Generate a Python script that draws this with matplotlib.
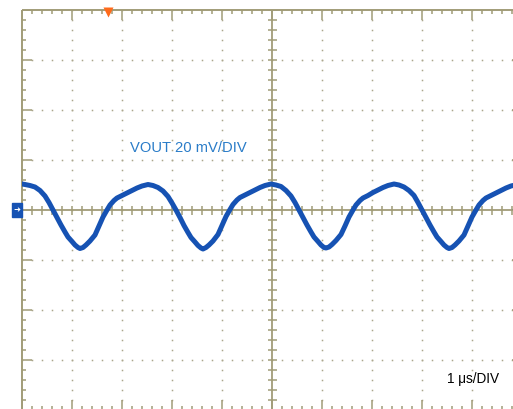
import numpy as np
import matplotlib
matplotlib.use("Agg")
import matplotlib.pyplot as plt

# ---- data ----
time_us = [0.00,
           0.06, 0.16, 0.26, 0.36, 0.46, 0.54, 0.62, 0.70, 0.78, 0.86, 0.92, 1.00, 1.06, 1.12, 1.16,
           1.22, 1.28, 1.36, 1.46, 1.54, 1.62, 1.70, 1.76, 1.84, 1.90, 2.00, 2.10, 2.20, 2.30, 2.40,
           2.52, 2.62, 2.72, 2.82, 2.92, 3.00, 3.08, 3.16, 3.24, 3.32, 3.38, 3.46, 3.52, 3.58, 3.62,
           3.68, 3.74, 3.82, 3.92, 4.00, 4.08, 4.16, 4.22, 4.30, 4.36, 4.46, 4.56, 4.66, 4.76, 4.86,
           4.98, 5.08, 5.18, 5.28, 5.38, 5.46, 5.54, 5.62, 5.70, 5.78, 5.84, 5.92, 5.98, 6.04, 6.08,
           6.14, 6.20, 6.28, 6.38, 6.46, 6.54, 6.62, 6.68, 6.76, 6.82, 6.92, 7.02, 7.12, 7.22, 7.32,
           7.44, 7.54, 7.64, 7.74, 7.84, 7.92, 8.00, 8.08, 8.16, 8.24, 8.30, 8.38, 8.44, 8.50, 8.54,
           8.60, 8.66, 8.74, 8.84, 8.92, 9.00, 9.08, 9.14, 9.22, 9.28, 9.38, 9.48, 9.58, 9.68, 9.78,
           9.82]
vout_mv = [10.4,
           10.2, 9.8, 9.2, 7.8, 5.6, 3.0, 0.0, -3.0, -6.0, -8.8, -10.8, -12.6, -14.0, -15.0, -15.4,
           -15.0, -14.0, -12.4, -10.0, -6.4, -2.8, 0.0, 2.0, 3.8, 4.8, 5.8, 6.8, 7.8, 8.8, 9.6,
           10.2, 9.8, 9.0, 7.6, 5.4, 2.8, 0.0, -3.0, -6.2, -9.0, -11.0, -12.8, -14.2, -15.2, -15.6,
           -15.0, -14.0, -12.4, -9.8, -6.2, -2.6, 0.2, 2.2, 4.0, 5.0, 6.0, 7.0, 8.0, 9.0, 9.8,
           10.4, 10.0, 9.4, 7.8, 5.6, 3.0, 0.0, -3.0, -6.0, -8.8, -10.8, -12.6, -14.0, -15.0, -15.2,
           -14.8, -13.8, -12.2, -9.8, -6.4, -2.8, 0.0, 2.0, 3.8, 4.8, 5.8, 7.0, 8.0, 9.0, 9.8,
           10.4, 10.0, 9.2, 7.8, 5.8, 3.0, 0.0, -3.0, -6.0, -8.8, -10.8, -12.6, -14.0, -15.0, -15.4,
           -15.0, -14.0, -12.4, -10.0, -6.4, -2.8, 0.0, 2.0, 3.8, 4.8, 5.8, 6.8, 7.8, 8.8, 9.6,
           9.8]

ch_label = "VOUT 20 mV/DIV"
tb_label = "1 μs/DIV"

V_DIV = 20.0   # mV per division
T_DIV = 1.0    # us per division
NX, NY = 10, 8

GRAT = "#a19c78"
DOT = "#aaa68c"
TRACE = "#1652b3"

fig = plt.figure(figsize=(5.13, 4.09), dpi=100)
W, H = 513, 409
ax = fig.add_axes([22 / W, (H - 410) / H, 500 / W, 400 / H])
ax.set_xlim(0, NX * T_DIV)
ax.set_ylim(-NY / 2 * V_DIV, NY / 2 * V_DIV)
ax.axis("off")

xmax = NX * T_DIV
ytop = NY / 2 * V_DIV
sx = T_DIV / 50.0   # us per pixel
sy = V_DIV / 50.0   # mV per pixel

# dotted grid lines
for i in range(1, NX):
    if i == NX // 2:
        continue
    ys = np.arange(-ytop, ytop + 1e-9, V_DIV / 5)
    ax.plot(np.full_like(ys, i * T_DIV), ys, ls="none", marker="s", ms=1.1,
            mec="none", mfc=DOT, zorder=1)
for j in range(-NY // 2 + 1, NY // 2):
    if j == 0:
        continue
    xs = np.arange(0, xmax + 1e-9, T_DIV / 5)
    ax.plot(xs, np.full_like(xs, j * V_DIV), ls="none", marker="s", ms=1.1,
            mec="none", mfc=DOT, zorder=1)

lw_b = 1.4
# border
ax.plot([0, 0], [-ytop, ytop], color=GRAT, lw=lw_b, clip_on=False, solid_capstyle="butt")
ax.plot([0, xmax], [ytop, ytop], color=GRAT, lw=lw_b, clip_on=False, solid_capstyle="butt")
ax.plot([0, xmax], [-ytop, -ytop], color=GRAT, lw=lw_b, clip_on=False)
ax.plot([xmax, xmax], [-ytop, ytop], color=GRAT, lw=lw_b, clip_on=False)

# border ticks
for k, y in enumerate(np.arange(-ytop, ytop + 1e-9, V_DIV / 5)):
    L = 10 if k % 5 == 0 else 4
    ax.plot([0, L * sx], [y, y], color=GRAT, lw=1.1, solid_capstyle="butt")
    ax.plot([xmax, xmax - L * sx], [y, y], color=GRAT, lw=1.1, solid_capstyle="butt")
for k, x in enumerate(np.arange(0, xmax + 1e-9, T_DIV / 5)):
    L = 10 if k % 5 == 0 else 4
    ax.plot([x, x], [ytop, ytop - L * sy], color=GRAT, lw=1.1, solid_capstyle="butt")
    ax.plot([x, x], [-ytop, -ytop + L * sy], color=GRAT, lw=1.1, solid_capstyle="butt")

# centre cross with ticks
ax.plot([0, xmax], [0, 0], color=GRAT, lw=1.3, zorder=2)
ax.plot([xmax / 2, xmax / 2], [-ytop, ytop], color=GRAT, lw=1.3, zorder=2)
for x in np.arange(0, xmax + 1e-9, T_DIV / 5):
    ax.plot([x, x], [-4.5 * sy, 4.5 * sy], color=GRAT, lw=1.1, zorder=2, solid_capstyle="butt")
for y in np.arange(-ytop, ytop + 1e-9, V_DIV / 5):
    ax.plot([xmax / 2 - 4.5 * sx, xmax / 2 + 4.5 * sx], [y, y], color=GRAT, lw=1.1, zorder=2,
            solid_capstyle="butt")

# trace
ax.plot(time_us, vout_mv, color=TRACE, lw=3.6, zorder=5, solid_joinstyle="round",
        solid_capstyle="round")

# trigger position marker (top, orange)
ax.plot([1.72], [ytop - 2.0 * sy], marker="v", ms=7, color="#ff6a1a", mec="none",
        clip_on=False, zorder=6)
# channel ground marker (left)
ax.add_patch(plt.Rectangle((-10 * sx, -7 * sy), 10 * sx, 14 * sy, color=TRACE,
                           clip_on=False, zorder=6))
ax.text(-5 * sx, 0, "➜", color="white", fontsize=6, ha="center", va="center",
        family=["DejaVu Sans"], clip_on=False, zorder=7)
# trigger level marker (right)
ax.plot([9.86], [0.6], marker="<", ms=5, color=TRACE, mec="none",
        clip_on=False, zorder=6)

ax.text(2.16, 23.2, ch_label, color="#2a7cc8", fontsize=10.6,
        family=["Liberation Sans", "DejaVu Sans"], ha="left", va="baseline")
ax.text(8.5, -69.0, tb_label, color="black", fontsize=9.8,
        family=["Liberation Sans", "DejaVu Sans"], ha="left", va="baseline")

fig.savefig("out.png", dpi=100)
